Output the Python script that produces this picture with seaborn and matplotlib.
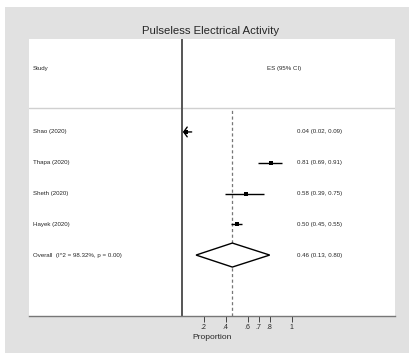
import matplotlib
matplotlib.use("Agg")
import matplotlib.pyplot as plt
import seaborn as sns
import pandas as pd

studies = ["Shao (2020)", "Thapa (2020)", "Sheth (2020)", "Hayek (2020)"]
es = [0.04, 0.81, 0.58, 0.50]
lo = [0.02, 0.69, 0.39, 0.45]
hi = [0.09, 0.91, 0.75, 0.55]
es_labels = ["0.04 (0.02, 0.09)", "0.81 (0.69, 0.91)", "0.58 (0.39, 0.75)", "0.50 (0.45, 0.55)"]
overall_label = "Overall  (I^2 = 98.32%, p = 0.00)"
overall_es, overall_lo, overall_hi = 0.46, 0.13, 0.80
overall_text = "0.46 (0.13, 0.80)"
ticks = [0.2, 0.4, 0.6, 0.7, 0.8, 1.0]
tick_labels = [".2", ".4", ".6", ".7", ".8", "1"]
title = "Pulseless Electrical Activity"

sns.set_style("white")
plt.rcParams['font.family'] = ['Liberation Sans', 'DejaVu Sans']

gray_bg = "#e1e1e1"
fig = plt.figure(figsize=(4.09, 3.53), dpi=100, facecolor=gray_bg)
fig.patches.append(plt.Rectangle((0, 1 - 7/353), 1, 7/353, transform=fig.transFigure,
                                 facecolor="white", edgecolor="none", zorder=0))
fig.patches.append(plt.Rectangle((0, 0), 5/409, 1, transform=fig.transFigure,
                                 facecolor="white", edgecolor="none", zorder=0))

ax = fig.add_axes([29/409, 37/353, 366/409, 277/353])
ax.set_facecolor("white")

n = len(studies)
rows = [n - i for i in range(n)]
df = pd.DataFrame({"study": studies, "es": es, "lo": lo, "hi": hi, "row": rows})

for r, l, h in zip(df["row"], df["lo"], df["hi"]):
    if l < 0.03:
        ax.annotate("", xy=(l - 0.01, r), xytext=(h, r),
                    arrowprops=dict(arrowstyle="->,head_length=0.25,head_width=0.35",
                                    color="black", lw=1.0, shrinkA=0, shrinkB=0),
                    zorder=3)
    else:
        ax.hlines(r, l, h, color="black", lw=1.0, zorder=3)

sns.scatterplot(data=df, x="es", y="row", marker="s", s=7, color="black",
                edgecolor="black", linewidth=0, ax=ax, zorder=5, legend=False)

dh = 0.39
ax.fill([overall_lo, overall_es, overall_hi, overall_es, overall_lo],
        [0, dh, 0, -dh, 0], facecolor="white", edgecolor="black", lw=1.0, zorder=3)

ylim = (-1.98, 7.02)
ax.set_ylim(*ylim)
ax.set_xlim(-1.39, 1.94)

ax.axvline(0, color="#555555", lw=1.4, zorder=2)
ax.vlines(overall_es, ylim[0], 4.7, color="#777777", lw=0.9, linestyles=(0, (2.5, 2)), zorder=1)
ax.axhline(4.78, color="#d0d0d0", lw=1.0, zorder=1)

fs = 4.4
xl = -1.355
xr = 1.045
ax.text(xl, 6.05, "Study", fontsize=fs, va="center", ha="left")
ax.text(0.773, 6.05, "ES (95% CI)", fontsize=fs, va="center", ha="left")
for s, r, lab in zip(studies, rows, es_labels):
    ax.text(xl, r, s, fontsize=fs, va="center", ha="left")
    ax.text(xr, r, lab, fontsize=fs, va="center", ha="left")
ax.text(xl, 0, overall_label, fontsize=fs, va="center", ha="left")
ax.text(xr, 0, overall_text, fontsize=fs, va="center", ha="left")

ax.set_ylabel("")
ax.set_yticks([])
ax.set_xticks(ticks)
ax.set_xticklabels(tick_labels, fontsize=5)
ax.tick_params(axis="x", direction="out", length=4, width=0.7, color="#444444", pad=1.5, bottom=True)
ax.set_xlabel("Proportion", fontsize=6, labelpad=1)
ax.xaxis.set_label_coords(0.5, -0.065)
for sp in ["left", "right", "top"]:
    ax.spines[sp].set_visible(False)
ax.spines["bottom"].set_color("#777777")
ax.spines["bottom"].set_linewidth(1.0)

fig.text(211/409, 1 - 31/353, title, fontsize=8.2, ha="center", va="center")

fig.savefig("out.png", dpi=100, facecolor=fig.get_facecolor())
